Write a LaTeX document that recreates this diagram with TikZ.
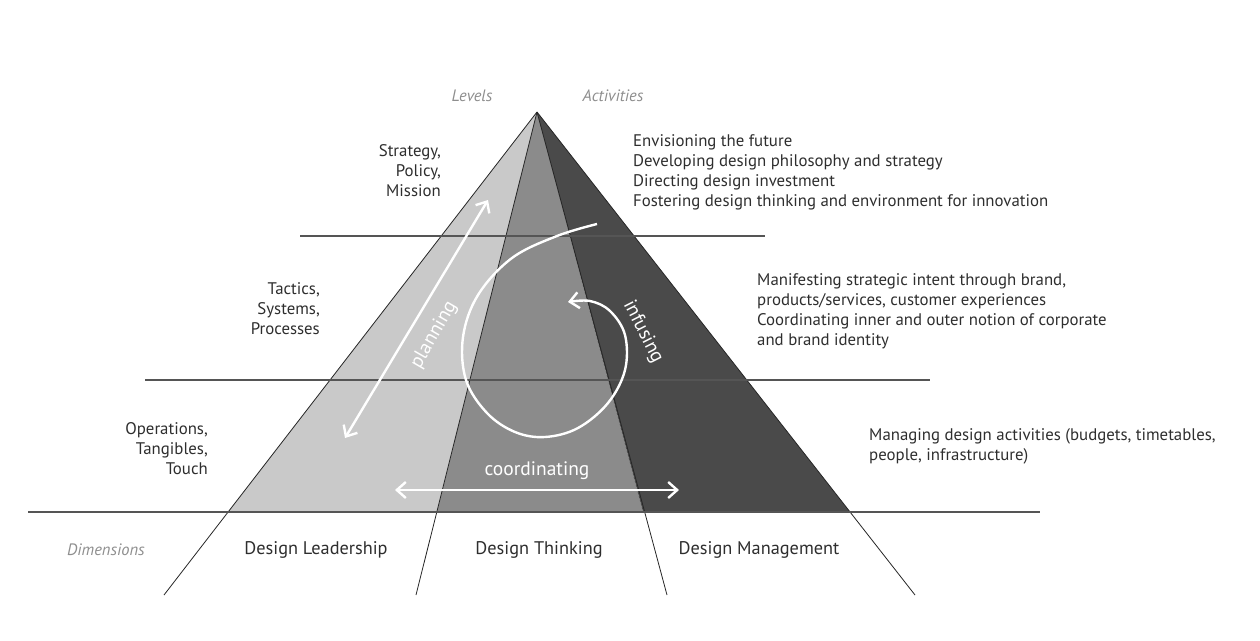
\documentclass[tikz,border=0pt]{standalone}
\usepackage{fontspec}
\setmainfont{PT Sans}
\usetikzlibrary{arrows.meta}
\definecolor{lightg}{HTML}{C9C9C9}
\definecolor{midg}{HTML}{8B8B8B}
\definecolor{darkg}{HTML}{4A4A4A}
\definecolor{txt}{HTML}{2E2E2E}
\definecolor{hint}{HTML}{8E8E8E}
\definecolor{rule}{HTML}{555555}
\begin{document}
\begin{tikzpicture}[x=1pt,y=-1pt,
  lbl/.style={font=\fontsize{16.8}{20.2}\selectfont, text=txt, inner sep=0pt},
  dimlbl/.style={font=\fontsize{18.3}{20}\selectfont, text=txt, inner sep=0pt},
  hintlbl/.style={font=\fontsize{16.5}{18}\selectfont\itshape, text=hint, inner sep=0pt},
  wlbl/.style={font=\fontsize{19.5}{20}\selectfont, text=white, inner sep=0pt},
  edge/.style={draw=black!85, line width=0.8pt},
  hline/.style={draw=rule, line width=1.4pt},
  warrow/.style={draw=white, line width=2.4pt, arrows={Straight Barb[length=9pt,width=16pt,line width=2.4pt]-Straight Barb[length=9pt,width=16pt,line width=2.4pt]}},
  wsarrow/.style={draw=white, line width=2.4pt, arrows={-Straight Barb[length=9pt,width=16pt,line width=2.4pt]}}
]
\path[use as bounding box] (0,0) rectangle (1260,640);
% geometry
\coordinate (apex) at (537,112);
\coordinate (bl) at (228,512);
\coordinate (bm1) at (437,512);
\coordinate (bm2) at (643,512);
\coordinate (br) at (850,512);
\coordinate (el) at (164,595);
\coordinate (em1) at (416,595);
\coordinate (em2) at (667,595);
\coordinate (er) at (915,595);
% fills
\fill[lightg] (apex) -- (bl) -- (bm1) -- cycle;
\fill[midg] (apex) -- (bm1) -- (bm2) -- cycle;
\fill[darkg] (apex) -- (bm2) -- (br) -- cycle;
% edges
\draw[edge] (apex) -- (el);
\draw[edge] (apex) -- (em1);
\draw[edge] (apex) -- (em2);
\draw[edge] (apex) -- (er);
% horizontal rules
\coordinate (h1a) at (300,236); \coordinate (h1b) at (765,236);
\coordinate (h2a) at (145,380); \coordinate (h2b) at (930,380);
\coordinate (h3a) at (28,512);  \coordinate (h3b) at (1040,512);
\draw[hline] (h1a) -- (h1b);
\draw[hline] (h2a) -- (h2b);
\draw[hline] (h3a) -- (h3b);
% planning arrow
\coordinate (pa) at (488,200);
\coordinate (pb) at (345,438);
\draw[warrow] (pb) -- (pa);
\node[wlbl, rotate=60] (planning) at (434,335) {planning};
% coordinating arrow
\coordinate (ca) at (395,490);
\coordinate (cb) at (679,490);
\draw[warrow] (ca) -- (cb);
\node[wlbl] (coordinating) at (537,471) {coordinating};
% infusing spiral
\draw[wsarrow] plot[smooth, tension=0.6] coordinates {(597,224) (557,236) (512,258) (478,295) (463,337) (466,380) (487,413) (515,432) (545,437) (578,428) (608,403) (625,370) (625,335) (610,311) (590,301) (568,302)};
\node[wlbl, rotate=-63] (infusing) at (643,332) {infusing};
% header labels
\node[hintlbl] (levels) at (472,96) {Levels};
\node[hintlbl] (activities) at (613,96) {Activities};
\node[hintlbl] (dimensions) at (106,550) {Dimensions};
% levels
\node[lbl, align=right, anchor=north east] (lv1) at (441,144) {Strategy,\\Policy,\\Mission};
\node[lbl, align=right, anchor=north east] (lv2) at (320,282) {Tactics,\\Systems,\\Processes};
\node[lbl, align=right, anchor=north east] (lv3) at (208,422) {Operations,\\Tangibles,\\Touch};
% activities
\node[lbl, align=left, anchor=north west] (ac1) at (633,134) {Envisioning the future\\Developing design philosophy and strategy\\Directing design investment\\Fostering design thinking and environment for innovation};
\node[lbl, align=left, anchor=north west] (ac2) at (757,273) {Manifesting strategic intent through brand,\\products/services, customer experiences\\Coordinating inner and outer notion of corporate\\and brand identity};
\node[lbl, align=left, anchor=north west] (ac3) at (869,428) {Managing design activities (budgets, timetables,\\people, infrastructure)};
% dimensions
\node[dimlbl] (dl) at (316,550) {Design Leadership};
\node[dimlbl] (dt) at (539,550) {Design Thinking};
\node[dimlbl] (dm) at (759,550) {Design Management};
\end{tikzpicture}
\end{document}
